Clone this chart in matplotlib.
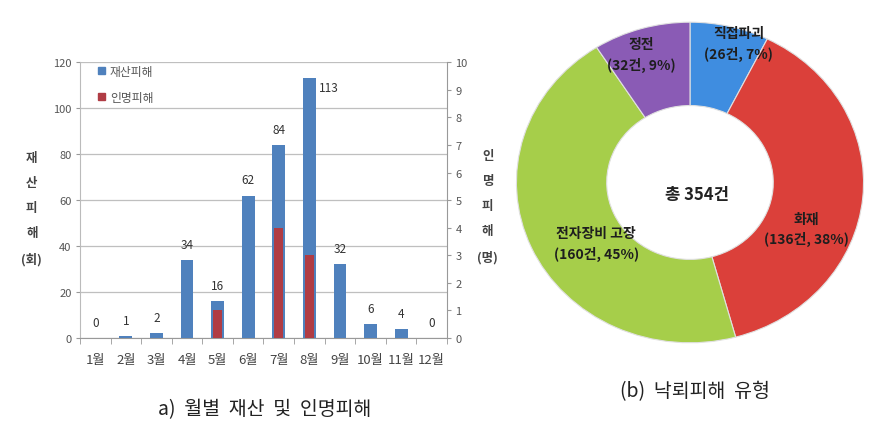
import numpy as np
import matplotlib.pyplot as plt
from matplotlib.patches import Patch

plt.rcParams['font.family'] = ['Noto Sans CJK KR', 'DejaVu Sans']

# monthly data
months = ["1월", "2월", "3월", "4월", "5월", "6월", "7월", "8월", "9월", "10월", "11월", "12월"]
property_dmg = [0, 1, 2, 34, 16, 62, 84, 113, 32, 6, 4, 0]
human_dmg = [0, 0, 0, 0, 1, 0, 4, 3, 0, 0, 0, 0]

# damage types
types = ["직접파괴", "화재", "전자장비 고장", "정전"]
counts = [26, 136, 160, 32]
pcts = [7, 38, 45, 9]
total = 354

blue = "#4f81bd"
red = "#b03c44"
gray_txt = "#555555"


def main():
    fig = plt.figure(figsize=(8.82, 4.27), dpi=100)

    # ---- a) bar chart ----
    ax = fig.add_axes([0.0907, 0.206, 0.4161, 0.646])
    x = np.arange(len(months))
    ax.bar(x, property_dmg, width=0.42, color=blue, zorder=3)
    ax.set_xlim(-0.5, len(months) - 0.5)
    ax.set_ylim(0, 120)
    ax.set_yticks(range(0, 121, 20))
    ax.yaxis.grid(True, color="#bfbfbf", lw=0.9, zorder=0)
    ax.set_xticks(x)
    ax.set_xticklabels(months)
    ax.set_xticks(np.arange(-0.5, len(months)), minor=True)
    ax.tick_params(axis="x", which="major", length=0, pad=11, labelsize=9.5, colors="#444444")
    ax.tick_params(axis="x", which="minor", length=4, color="#999999")
    ax.tick_params(axis="y", length=3, color="#999999", labelsize=8, colors=gray_txt, pad=3)
    for s in ["top", "right"]:
        ax.spines[s].set_visible(False)
    ax.spines["left"].set_color("#bbbbbb")
    ax.spines["bottom"].set_color("#999999")

    for i, v in enumerate(property_dmg):
        if v == max(property_dmg):
            ax.text(i + 0.3, v - 4, str(v), ha="left", va="center", fontsize=8.5, color="#333333")
        else:
            ax.text(i, v + 4, str(v), ha="center", va="bottom", fontsize=8.5, color="#333333")

    ax2 = ax.twinx()
    ax2.bar(x, human_dmg, width=0.3, color=red, zorder=4)
    ax2.set_ylim(0, 10)
    ax2.set_yticks(range(0, 11))
    ax2.tick_params(axis="y", length=3, color="#999999", labelsize=8, colors=gray_txt, pad=3)
    for s in ["top", "left", "bottom"]:
        ax2.spines[s].set_visible(False)
    ax2.spines["right"].set_color("#999999")

    handles = [Patch(color=blue), Patch(color=red)]
    leg = ax.legend(handles, ["재산피해", "인명피해"], loc="upper left", bbox_to_anchor=(0.02, 1.03),
                    frameon=False, handlelength=0.6, handleheight=0.6, handletextpad=0.4,
                    labelspacing=1.1, fontsize=8.5)
    for t in leg.get_texts():
        t.set_color(gray_txt)

    fig.text(0.036, 0.51, "재\n산\n피\n해\n(회)", ha="center", va="center", fontsize=9,
             fontweight="bold", color="#444444", linespacing=2.2)
    fig.text(0.553, 0.515, "인\n명\n피\n해\n(명)", ha="center", va="center", fontsize=9,
             fontweight="bold", color="#444444", linespacing=2.2)
    fig.text(0.30, 0.04, "a)  월별  재산  및  인명피해", ha="center", va="center", fontsize=14,
             color="#222222")

    # ---- b) donut ----
    ax3 = fig.add_axes([0.5816, 0.1874, 0.4014, 0.7658])
    colors = ["#3f8de0", "#db403a", "#a6ce4a", "#8a5bb5"]
    ax3.pie(counts, colors=colors, startangle=90, counterclock=False,
            wedgeprops=dict(width=0.52, edgecolor="#e0e0e0", linewidth=0.8))
    ax3.set_aspect("auto")
    ax3.set_xlim(-1.02, 1.02)
    ax3.set_ylim(-1.02, 1.02)

    pos = [(0.28, 0.87), (0.67, -0.29), (-0.54, -0.38), (-0.28, 0.8)]
    for (px, py), name, c, p in zip(pos, types, counts, pcts):
        ax3.text(px, py, f"{name}\n({c}건, {p}%)", ha="center", va="center", fontsize=10,
                 fontweight="bold", color="#1e1e1e", linespacing=1.5)
    ax3.text(0.04, -0.07, f"총 {total}건", ha="center", va="center", fontsize=12,
             fontweight="bold", color="#222222")

    fig.text(0.788, 0.082, "(b)  낙뢰피해  유형", ha="center", va="center", fontsize=14,
             color="#222222")

    fig.savefig("out.png", dpi=100)


if __name__ == "__main__":
    main()
